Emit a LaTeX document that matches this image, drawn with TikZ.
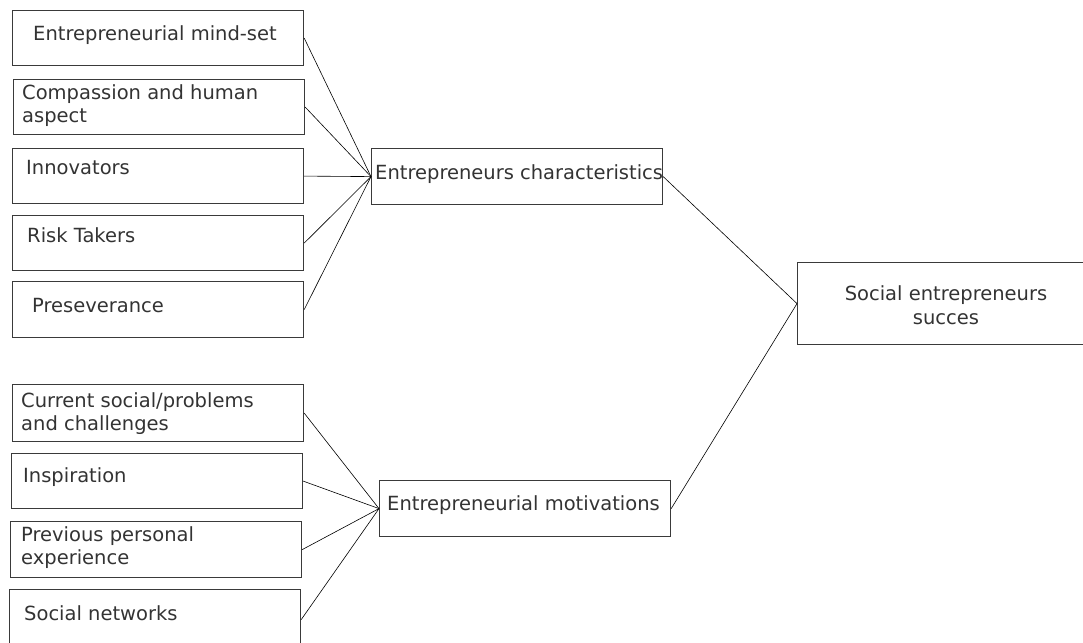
\documentclass[tikz,border=0pt]{standalone}
\usepackage{fontspec}
\setmainfont{DejaVu Sans}
\definecolor{txt}{HTML}{333333}
\definecolor{edge}{HTML}{3A3A3A}
\begin{document}
\begin{tikzpicture}[x=1pt,y=-1pt,
  box/.style={draw=edge,line width=1.2pt,rectangle,inner sep=0pt},
  lbl/.style={text=txt,font=\fontsize{19.5}{23}\selectfont,align=left,anchor=west,inner sep=0pt},
  clbl/.style={text=txt,font=\fontsize{19.5}{24}\selectfont,align=center,inner sep=0pt},
  conn/.style={draw=black,line width=0.6pt}]
\useasboundingbox (0,0) rectangle (1083,642);
\clip (0,0) rectangle (1083,642);
% left boxes (top group)
\node[box,minimum width=291pt,minimum height=55pt,anchor=north west] (b1) at (12,10) {};
\node[box,minimum width=291pt,minimum height=55pt,anchor=north west] (b2) at (13,79) {};
\node[box,minimum width=291pt,minimum height=55pt,anchor=north west] (b3) at (12,148) {};
\node[box,minimum width=291pt,minimum height=55pt,anchor=north west] (b4) at (12,215) {};
\node[box,minimum width=291pt,minimum height=56pt,anchor=north west] (b5) at (12,281) {};
% left boxes (bottom group)
\node[box,minimum width=291pt,minimum height=57pt,anchor=north west] (b6) at (12,384) {};
\node[box,minimum width=291pt,minimum height=55pt,anchor=north west] (b7) at (11,453) {};
\node[box,minimum width=291pt,minimum height=56pt,anchor=north west] (b8) at (10,521) {};
\node[box,minimum width=291pt,minimum height=60pt,anchor=north west] (b9) at (9,589) {};
% middle and right boxes
\node[box,minimum width=291pt,minimum height=56pt,anchor=north west] (m1) at (371,148) {};
\node[box,minimum width=291pt,minimum height=56pt,anchor=north west] (m2) at (379,480) {};
\node[box,minimum width=300pt,minimum height=82pt,anchor=north west] (r) at (797,262) {};
% texts
\node[lbl] (t1) at (33,35) {Entrepreneurial mind-set};
\node[lbl] (t2) at (22,106) {Compassion and human\\aspect};
\node[lbl] (t3) at (26,168) {Innovators};
\node[lbl] (t4) at (27,235) {Risk Takers};
\node[lbl] (t5) at (32,306) {Preseverance};
\node[lbl] (t6) at (21,414) {Current social/problems\\and challenges};
\node[lbl] (t7) at (23,477) {Inspiration};
\node[lbl] (t8) at (21,548) {Previous personal\\experience};
\node[lbl] (t9) at (24,613) {Social networks};
\node[lbl] (tm1) at (375,174) {Entrepreneurs characteristics};
\node[lbl] (tm2) at (387,505) {Entrepreneurial motivations};
\node[clbl] (tr) at (946,305) {Social entrepreneurs\\succes};
% connectors
\foreach \b in {b1,b2,b3,b4,b5} \draw[conn] (\b.east) -- (m1.west);
\foreach \b in {b6,b7,b8,b9} \draw[conn] (\b.east) -- (m2.west);
\draw[conn] (m1.east) -- (r.west);
\draw[conn] (m2.east) -- (r.west);
\end{tikzpicture}
\end{document}
